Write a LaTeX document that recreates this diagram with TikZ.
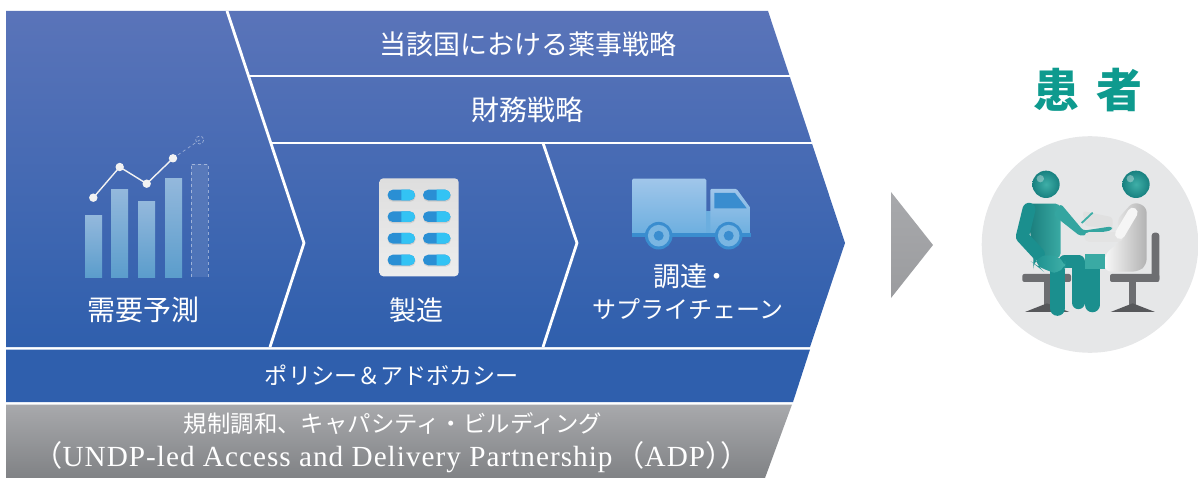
\documentclass[tikz,border=0pt]{standalone}
\usepackage{fontspec}
\setmainfont{Liberation Serif}
\newfontfamily\cjk{Noto Sans CJK JP}
\newfontfamily\latinsp[LetterSpace=3.5]{Liberation Serif}
\definecolor{bandtop}{HTML}{5A74B9}
\definecolor{bandmid}{HTML}{4066AF}
\definecolor{bandbot}{HTML}{2F5FAD}
\definecolor{greytop}{HTML}{A8A9AC}
\definecolor{greybot}{HTML}{808285}
\definecolor{teal1}{HTML}{1B8F8E}
\definecolor{teal2}{HTML}{3FAFA8}
\definecolor{title}{HTML}{0E9A8E}
\definecolor{chair}{HTML}{6D6E71}
\definecolor{truck1}{HTML}{A0C6EA}
\definecolor{truck2}{HTML}{6BAEDF}
\definecolor{truck3}{HTML}{3A8DCF}
\definecolor{bar1}{HTML}{93B8DC}
\definecolor{bar2}{HTML}{5B9DCC}
\definecolor{pillL}{HTML}{2A8FD4}
\definecolor{pillR}{HTML}{33C3F4}
\definecolor{disc}{HTML}{E6E7E8}
\tikzset{
  lbl/.style={text=white,inner sep=0pt,font=\cjk},
  sep/.style={draw=white,line width=2.8pt,line join=miter},
  databar/.style={top color=bar1,bottom color=bar2},
  tealarm/.style={draw=teal1,line cap=round,line join=round},
  coat/.style={draw=white!92!gray,line cap=round,line join=round},
}
\newcommand{\pillat}[2]{%
  \fill[black,opacity=.10,rounded corners=5pt] (#1-13.5,#2-4) rectangle (#1+14.2,#2+6.6);
  \fill[rounded corners=5.2pt,color=pillL] (#1-13.7,#2-5.3) rectangle (#1+13.7,#2+5.3);
  \begin{scope}
    \clip (#1,#2-6) rectangle (#1+14,#2+6);
    \fill[rounded corners=5.2pt,color=pillR] (#1-13.7,#2-5.3) rectangle (#1+13.7,#2+5.3);
  \end{scope}}
\begin{document}
\begin{tikzpicture}[x=1pt,y=-1pt]
\useasboundingbox (0,0) rectangle (1198,478);
% main chevron
\path[top color=bandtop,middle color=bandmid,bottom color=bandbot]
  (6,11) -- (768,11) -- (845,243) -- (810,347) -- (6,347) -- cycle;
% bands
\fill[bandbot] (6,349.5) -- (810,349.5) -- (793,402) -- (6,402) -- cycle;
\path[top color=greytop,bottom color=greybot]
  (6,404.5) -- (792,404.5) -- (765,478) -- (6,478) -- cycle;
% separators
\draw[sep] (227,11) -- (304,243) -- (270,347);
\draw[sep] (543,143) -- (577,243) -- (543,347);
\draw[sep] (247.5,76) -- (790,76);
\draw[sep] (269.5,143) -- (812,143);
% labels
\node[lbl,font=\cjk\fontsize{27}{27}\selectfont] (t1) at (527.5,44) {当該国における薬事戦略};
\node[lbl,font=\cjk\fontsize{28}{28}\selectfont] (t2) at (527,110) {財務戦略};
\node[lbl,font=\cjk\fontsize{28}{28}\selectfont] (t3) at (143,310) {需要予測};
\node[lbl,font=\cjk\fontsize{27}{27}\selectfont] (t4) at (416,310) {製造};
\node[lbl,font=\cjk\fontsize{27}{27}\selectfont] (t5) at (692,276) {調達\hspace{-4.5pt}・};
\node[lbl,font=\cjk\fontsize{24}{24}\selectfont] (t6) at (688,309) {サプライチェーン};
\node[lbl,font=\cjk\fontsize{23.1}{24}\selectfont] (t7) at (392,375) {ポリシー＆アドボカシー};
\node[lbl,font=\cjk\fontsize{23.4}{24}\selectfont] (t8) at (393,424) {規制調和、キャパシティ・ビルディング};
\node[lbl,font=\cjk\fontsize{29.2}{29}\selectfont] (t9) at (391.5,457) {（{\latinsp UNDP-led Access and Delivery Partnership}\hspace{3pt}（{\latinsp ADP}）\hspace{-14pt}）};
% chart icon
\foreach \xa/\yt in {85/216,111/190,138/202,165/179}
  \path[databar] (\xa,\yt) rectangle (\xa+17,277);
\fill[white,opacity=.10] (191,164) rectangle (208,277);
\draw[white,opacity=.45,line width=.7pt,dashed] (191,277) -- (191,164) -- (208,164) -- (208,277);
\draw[white,opacity=.45,line width=.7pt,dashed] (173,158.3) -- (199.7,140);
\draw[white,opacity=.45,line width=.7pt,densely dashed] (199.7,140) circle (4);
\draw[white!90!gray,line width=1.4pt] (93.3,197.7) -- (119.7,167) -- (146.7,183.7) -- (173,158.3);
\foreach \p in {(93.3,197.7),(119.7,167),(146.7,183.7),(173,158.3)}
  \fill[white!90!gray] \p circle (4.2);
% pills icon
\path[top color=black!13,bottom color=black!7,rounded corners=4pt] (379.3,178.3) rectangle (458.7,276.3);
\foreach \py in {195,216.7,238.3,260} {
  \pillat{401.3}{\py}
  \pillat{436.7}{\py}
}
% truck icon
\path[top color=truck1,bottom color=truck2,rounded corners=1.5pt] (632,178.7) -- (706.3,178.7) -- (706.3,236) -- (632,236) -- cycle;
\fill[truck2] (706,211) rectangle (711,234);
\path[top color=truck1,bottom color=truck2,rounded corners=1pt] (710.3,189) -- (736.7,189) -- (750.7,208.3) -- (750.7,236) -- (710.3,236) -- cycle;
\fill[truck3] (714.3,193) -- (735,193) -- (746.7,208.3) -- (714.3,208.3) -- cycle;
\fill[truck3] (632,233.3) rectangle (750.7,236.7);
\foreach \cx in {658.7,728.7} {
  \fill[truck3] (\cx,235.7) circle (13.8);
  \fill[truck2!90!white] (\cx,235.7) circle (10.8);
  \fill[truck3] (\cx,235.7) circle (5);
}
% arrow
\path[top color=greytop,bottom color=greytop!92!black] (891,192) -- (933,245) -- (891,298) -- cycle;
% title
\node[lbl,text=title,font=\cjk\bfseries\fontsize{46}{46}\selectfont] (pt1) at (1056,90) {患};
\node[lbl,text=title,font=\cjk\bfseries\fontsize{46}{46}\selectfont] (pt2) at (1119,90) {者};
% consultation icon
\fill[disc] (1090,244.5) circle (108.3);
\begin{scope}[shift={(970,130)},x=.3333pt,y=-.3333pt]
  % chairs
  \fill[chair,rounded corners=2pt] (157,432) rectangle (303,456);
  \fill[chair] (222,456) rectangle (240,525);
  \fill[chair!80!black] (165,546) -- (231,520) -- (298,546) -- cycle;
  \fill[chair,rounded corners=2pt] (420,432) rectangle (568,456);
  \fill[chair,rounded corners=3pt] (545,308) rectangle (568,456);
  \fill[chair] (478,456) rectangle (498,525);
  \fill[chair!80!black] (422,546) -- (488,520) -- (555,546) -- cycle;
  % clipboard
  \fill[black!12,rounded corners=3pt] (338,243) -- (428,262) -- (428,295) -- (345,288) -- cycle;
  % doctor
  \path[left color=white!94!gray,right color=black!30,rounded corners=6pt]
    (440,270) -- (490,215) -- (530,230) -- (530,405) -- (505,425) -- (405,425) -- (405,372) -- (455,330) -- cycle;
  % patient torso and arms
  \path[left color=teal1!85!black,right color=teal2!85!teal1,rounded corners=5pt] (168,221) -- (272,221) -- (272,385) -- (192,385) -- cycle;
  \draw[tealarm,line width=13pt] (177,238) -- (157,320) -- (205,372);
  \fill[teal2!70!teal1,rounded corners=3pt] (272,221) -- (340,302) -- (426,289) -- (426,301) -- (330,318) -- (250,255) -- cycle;
  % pen
  \draw[teal2,line width=1.8pt] (335,279) -- (368,248);
  % back leg
  \draw[tealarm,line width=13pt] (285,394) -- (325,394) -- (325,518);
  % front thigh and leg
  \draw[tealarm,line width=15pt] (262,420) -- (262,535);
  \path[left color=teal1,right color=teal2,rounded corners=14pt] (190,376) -- (285,376) -- (285,435) -- (215,420) -- (190,400) -- cycle;
  % doctor-side leg
  \draw[tealarm,line width=14.6pt] (367,400) -- (367,525);
  \fill[teal2!85!teal1] (345,372) -- (405,372) -- (405,416) -- (345,416) -- cycle;
  % doctor arm
  \draw[line width=10pt,draw=black!11,line cap=round,line join=round] (445,320) -- (358,320);
  \draw[coat,line width=10pt] (488,248) -- (450,312);
  % heads
  \foreach \hx in {228,498} {
    \shade[inner color=teal2,outer color=teal1!90!black] (\hx,163) circle (41);
    \fill[white,opacity=.35] (\hx-17,146) circle (11);
  }
\end{scope}
\end{tikzpicture}
\end{document}
